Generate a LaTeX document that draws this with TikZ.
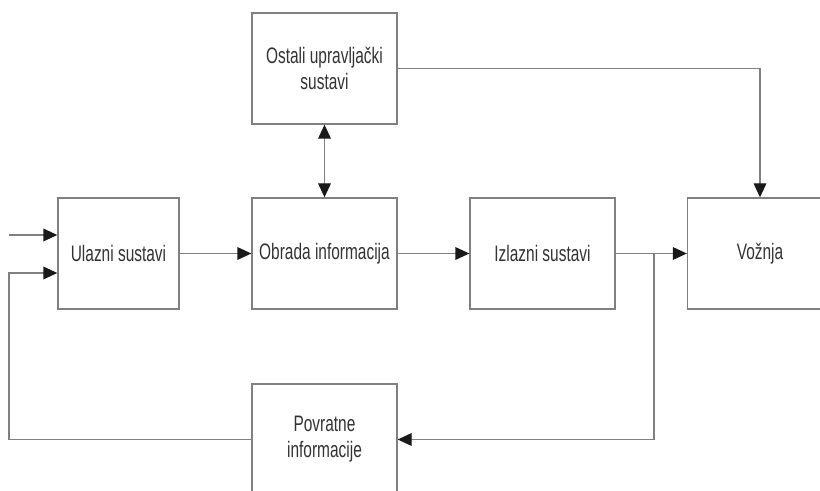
\documentclass[tikz,border=0pt]{standalone}
\usepackage{fontspec}
\setmainfont{Liberation Sans}[FakeStretch=0.69]
\usetikzlibrary{arrows.meta}
\colorlet{boxLine}{black!50}
\colorlet{boxText}{black!80}
\colorlet{arrowTip}{black!90}

\begin{document}
\begin{tikzpicture}[
  x=0.75pt,
  y=-0.75pt,
  >={Triangle[length=10.5pt,width=9.5pt,color=arrowTip]},
  every node/.style={
    text=boxText,
    font=\fontsize{16.8}{19.5}\selectfont,
  },
  block/.style={
    draw=boxLine,
    line width=1pt,
    minimum width=108.75pt,
    minimum height=83.25pt,
    inner sep=0pt,
    align=center
  },
  link/.style={
    draw=boxLine,
    line width=1pt
  },
  flow/.style={
    link,
    ->
  }
]
\path[use as bounding box, clip] (0,0) rectangle (820,491);
\node[block, minimum width=90.75pt] (ulazni) at (118.5,253.5) {Ulazni sustavi};
\node[block] (obrada) at (324.5,253.5) {Obrada informacija};
\node[block] (izlazni) at (542.5,253.5) {Izlazni sustavi};
\node[block] (voznja) at (760,253.5) {Vožnja};
\node[block] (ostali) at (324.5,68.5) {Ostali upravljački\\sustavi};
\node[block] (povratne) at (324.5,439.5) {Povratne\\informacije};
\coordinate (inTop) at (9,235);
\coordinate (fbCorner) at (9,273);
\coordinate (split) at (654,253.5);
% main chain
\draw[flow] (inTop) -- (inTop -| ulazni.west);
\draw[flow] (ulazni) -- (obrada);
\draw[flow] (obrada) -- (izlazni);
\draw[flow] (izlazni) -- (voznja);
\draw[link, <->] (ostali) -- (obrada);
\draw[flow] (ostali.east) -| (voznja.north);
% feedback loop
\draw[flow] (split) |- (povratne.east);
\draw[flow] (povratne.west) -| (fbCorner) -- (fbCorner -| ulazni.west);
\end{tikzpicture}
\end{document}
